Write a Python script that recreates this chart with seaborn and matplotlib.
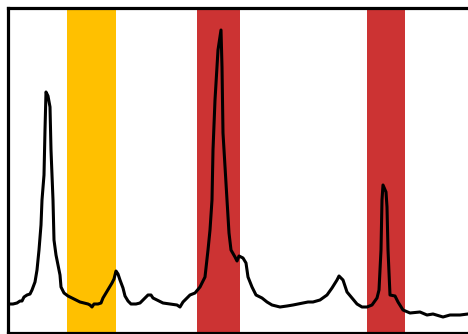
import matplotlib
matplotlib.use("Agg")
import matplotlib.pyplot as plt
import seaborn as sns
import pandas as pd

# signal positions and values (value = height above the baseline)
x = [8, 13, 17, 20, 22, 24, 27, 30, 32, 35, 37, 39, 41, 42, 44, 45, 46, 48, 50, 51,
     53, 54, 56, 58, 60, 61, 64, 68, 72, 76, 80, 84, 88, 90, 92, 94, 98, 101, 103, 106,
     109, 112, 114, 116, 118, 120, 123, 125, 128, 131, 136, 140, 144, 148, 151, 153, 157, 163, 170, 177,
     180, 183, 187, 190, 195, 200, 205, 208, 210, 212, 213, 215, 217, 218, 221, 222, 223, 225, 227, 229,
     231, 235, 237, 239, 243, 246, 248, 252, 256, 262, 267, 272, 280, 287, 293, 303, 308, 313, 320, 327,
     332, 337, 339, 343, 347, 352, 357, 362, 367, 372, 377, 379, 381, 382, 383, 386, 387, 388, 390, 395,
     398, 403, 410, 420, 427, 433, 443, 450, 460, 468]
y_px = [304, 304, 303, 301, 301, 297, 295, 294, 290, 282, 270, 250, 225, 200, 175, 130, 92, 96, 107, 150,
        200, 240, 255, 265, 275, 287, 293, 296, 298, 300, 302, 303, 304, 305, 307, 304, 304, 303, 298, 293,
        288, 283, 279, 271, 274, 280, 288, 296, 301, 304, 304, 303, 299, 295, 295, 298, 300, 303, 304, 305,
        307, 302, 298, 295, 293, 287, 277, 250, 230, 200, 150, 100, 67, 50, 30, 67, 133, 167, 200, 233,
        250, 257, 261, 256, 258, 263, 277, 287, 295, 298, 302, 305, 307, 306, 305, 303, 302, 302, 300, 295,
        288, 280, 276, 280, 292, 298, 304, 307, 307, 305, 298, 290, 250, 200, 185, 192, 207, 250, 295, 296,
        302, 310, 313, 312, 315, 314, 317, 315, 315, 314]
baseline = 333
signal = [baseline - v for v in y_px]

# highlighted bands (start, end, colour)
band_start = [67, 197, 367]
band_end = [115.5, 239.5, 405]
band_color = ["#FFC000", "#CC3333", "#CC3333"]

df = pd.DataFrame({"pos": x, "signal": signal})

sns.set_style("white")
fig = plt.figure(figsize=(4.68, 3.34), dpi=100)
ax = fig.add_axes([8.3 / 468, 1.0 / 334, (470 - 8.3) / 468, (333 - 7.5) / 334])

for s, e, c in zip(band_start, band_end, band_color):
    ax.axvspan(s, e, color=c, lw=0, zorder=1)

sns.lineplot(data=df, x="pos", y="signal", color="black", lw=2.2, ax=ax, zorder=3)

ax.set_xlim(8.3, 470)
ax.set_ylim(0, baseline - 7.5)
ax.set_xticks([])
ax.set_yticks([])
ax.set_xlabel("")
ax.set_ylabel("")
for side in ["left", "top", "bottom", "right"]:
    ax.spines[side].set_visible(True)
    ax.spines[side].set_color("black")
    ax.spines[side].set_linewidth(2.3)

fig.savefig("out.png", dpi=100)
